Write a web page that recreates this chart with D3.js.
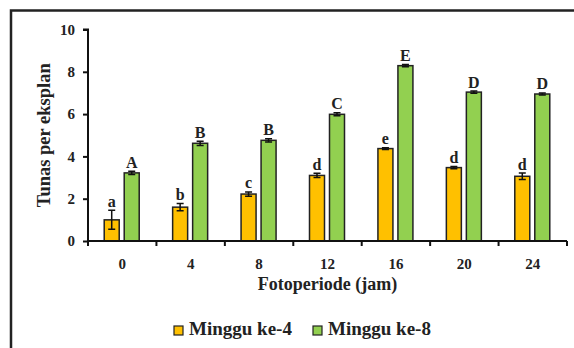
<!DOCTYPE html>
<html>
<head>
<meta charset="utf-8">
<script src="https://cdn.jsdelivr.net/npm/d3@7"></script>
<style>
  body { margin: 0; background: #fff; }
  svg { display: block; }
</style>
</head>
<body>
<div id="chart"></div>
<script>
// data
const periods = ['0', '4', '8', '12', '16', '20', '24'];
const seriesNames = ['Minggu ke-4', 'Minggu ke-8'];
const week4 = [1.0, 1.6, 2.22, 3.1, 4.37, 3.47, 3.06];
const week4Err = [0.45, 0.17, 0.1, 0.1, 0.04, 0.05, 0.15];
const week4Letters = ['a', 'b', 'c', 'd', 'e', 'd', 'd'];
const week8 = [3.22, 4.62, 4.76, 5.99, 8.29, 7.04, 6.95];
const week8Err = [0.08, 0.1, 0.08, 0.07, 0.05, 0.05, 0.05];
const week8Letters = ['A', 'B', 'B', 'C', 'E', 'D', 'D'];
const yTicks = [0, 2, 4, 6, 8, 10];
const colors = ['#ffc000', '#92d050'];

const FONT = "'Liberation Serif', 'Times New Roman', Tinos, 'DejaVu Serif', serif";

const width = 574, height = 348;
const margin = {left: 88, right: 7, top: 29.5, bottom: 107};

const svg = d3.select('#chart').append('svg')
  .attr('width', width)
  .attr('height', height);

// outer frame (only top and left visible)
svg.append('path')
  .attr('d', 'M11,' + height + 'V10.5H' + width)
  .attr('fill', 'none')
  .attr('stroke', '#222')
  .attr('stroke-width', 2.5);

const x = d3.scaleBand().domain(periods).range([margin.left, width - margin.right]);
const y = d3.scaleLinear().domain([0, 10]).range([height - margin.bottom, margin.top]);
const barW = 15;
const offsets = [-10.5, 9.5];

const series = [
  {vals: week4, err: week4Err, letters: week4Letters},
  {vals: week8, err: week8Err, letters: week8Letters}
];

function label(sel, size) {
  return sel.attr('font-family', FONT)
    .attr('font-weight', 'bold')
    .attr('font-size', size)
    .attr('fill', '#222');
}

series.forEach((s, si) => {
  const g = svg.append('g');
  const cx = (i) => x(periods[i]) + x.bandwidth() / 2 + offsets[si];
  g.selectAll('rect')
    .data(s.vals)
    .enter()
    .append('rect')
    .attr('x', (d, i) => cx(i) - barW / 2)
    .attr('y', (d) => y(d))
    .attr('width', barW)
    .attr('height', (d) => y(0) - y(d))
    .attr('fill', colors[si])
    .attr('stroke', '#222')
    .attr('stroke-width', 1.5);
  // error bars + letters
  s.vals.forEach((v, i) => {
    const e = s.err[i];
    const c = cx(i);
    g.append('path')
      .attr('d', 'M' + c + ',' + y(v - e) + 'V' + y(v + e) +
        'M' + (c - 3.5) + ',' + y(v - e) + 'H' + (c + 3.5) +
        'M' + (c - 3.5) + ',' + y(v + e) + 'H' + (c + 3.5))
      .attr('stroke', '#111')
      .attr('stroke-width', 1.5)
      .attr('fill', 'none');
    label(g.append('text'), 16)
      .attr('x', c)
      .attr('y', y(v + e) - 3.5)
      .attr('text-anchor', 'middle')
      .text(s.letters[i]);
  });
});

// axes
const yAxis = d3.axisLeft(y).tickValues(yTicks).tickSize(5).tickPadding(8);
const xAxis = d3.axisBottom(x).tickSize(0).tickPadding(17);

const gy = svg.append('g')
  .attr('transform', 'translate(' + margin.left + ',0)')
  .call(yAxis);
gy.select('.domain').attr('d', 'M-5,' + y(10) + 'H0V' + y(0));

const gx = svg.append('g')
  .attr('transform', 'translate(0,' + y(0) + ')')
  .call(xAxis);
gx.select('.domain').remove();
gx.append('line')
  .attr('x1', margin.left).attr('x2', width - margin.right)
  .attr('stroke', '#111').attr('stroke-width', 2);
// x ticks at category boundaries
const bounds = periods.map((p) => x(p)).concat([x(periods[periods.length - 1]) + x.bandwidth()]);
gx.selectAll('.bound')
  .data(bounds)
  .enter()
  .append('line')
  .attr('class', 'bound')
  .attr('x1', (d) => d).attr('x2', (d) => d)
  .attr('y1', 0).attr('y2', 5)
  .attr('stroke', '#111').attr('stroke-width', 2);

[gx, gy].forEach((g) => {
  g.attr('font-family', FONT).attr('font-size', 15).attr('font-weight', 'bold');
  g.selectAll('.domain').attr('stroke', '#111').attr('stroke-width', 2);
  g.selectAll('.tick line').attr('stroke', '#111').attr('stroke-width', 2);
  g.selectAll('.tick text').attr('fill', '#222');
});

// axis titles
label(svg.append('text'), 18)
  .attr('x', (margin.left + width - margin.right) / 2)
  .attr('y', 290)
  .attr('text-anchor', 'middle')
  .text('Fotoperiode (jam)');

label(svg.append('text'), 18.5)
  .attr('transform', 'translate(50,' + (y(5)) + ') rotate(-90)')
  .attr('text-anchor', 'middle')
  .text('Tunas per eksplan');

// legend
const legendX = [174, 313];
seriesNames.forEach((name, i) => {
  svg.append('rect')
    .attr('x', legendX[i]).attr('y', 326)
    .attr('width', 9).attr('height', 9)
    .attr('fill', colors[i])
    .attr('stroke', '#222')
    .attr('stroke-width', 1.2);
  label(svg.append('text'), 19)
    .attr('x', legendX[i] + 15)
    .attr('y', 335)
    .text(name);
});
</script>
</body>
</html>
